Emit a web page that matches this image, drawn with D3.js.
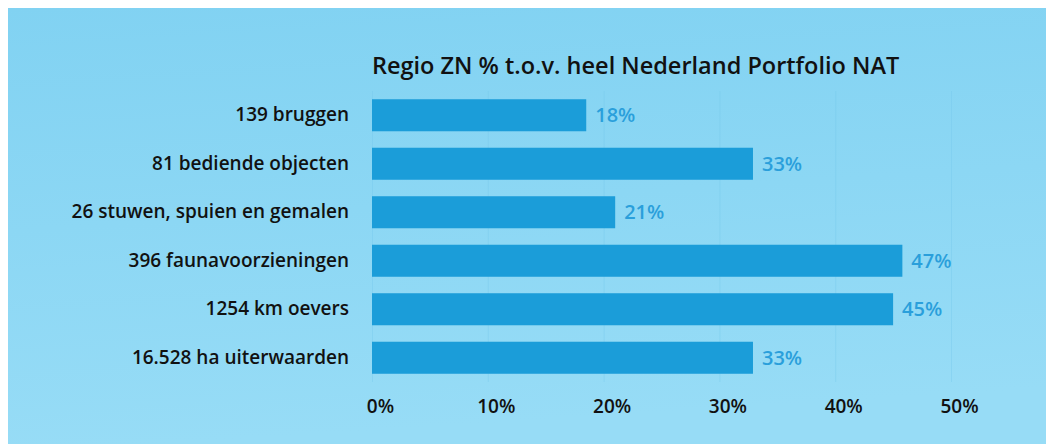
<!DOCTYPE html>
<html>
<head>
<meta charset="utf-8">
<script src="https://cdn.jsdelivr.net/npm/d3@7"></script>
<style>
  body { margin: 0; background: #fff; }
  svg { display: block; }
</style>
</head>
<body>
<div id="chart"></div>
<script>
// chart data
var categories = ["139 bruggen", "81 bediende objecten", "26 stuwen, spuien en gemalen",
                  "396 faunavoorzieningen", "1254 km oevers", "16.528 ha uiterwaarden"];
var values = [18.5, 32.9, 21.0, 45.8, 45.0, 32.9];       // bar lengths in %
var valueLabels = ["18%", "33%", "21%", "47%", "45%", "33%"];
var ticks = [0, 10, 20, 30, 40, 50];
var title = "Regio ZN % t.o.v. heel Nederland Portfolio NAT";

function init() {
    var W = 1050, H = 444;

    var svg = d3.select("#chart").append("svg")
        .attr("width", W)
        .attr("height", H);

    // background gradient
    var grad = svg.append("defs").append("linearGradient")
        .attr("id", "bg")
        .attr("x1", 0).attr("y1", 0).attr("x2", 0.15).attr("y2", 1);
    grad.append("stop").attr("offset", "0%").attr("stop-color", "#81d2f2");
    grad.append("stop").attr("offset", "100%").attr("stop-color", "#97dcf6");

    svg.append("rect")
        .attr("x", 8).attr("y", 8)
        .attr("width", W - 12).attr("height", H - 8)
        .attr("fill", "url(#bg)");

    // scales
    var x = d3.scaleLinear()
        .domain([0, 50])
        .range([372, 951]);

    var y = d3.scaleBand()
        .domain(categories)
        .range([91, 382])
        .paddingInner(0.34)
        .paddingOuter(0.17);

    // faint gridlines
    svg.append("g")
        .selectAll("line")
        .data(ticks)
        .enter()
        .append("line")
        .attr("x1", function(d) { return x(d) + 0.5; })
        .attr("x2", function(d) { return x(d) + 0.5; })
        .attr("y1", 91)
        .attr("y2", 382)
        .attr("stroke", "#74c6ec")
        .attr("stroke-opacity", 0.35);

    // title
    svg.append("text")
        .attr("x", 372)
        .attr("y", 74)
        .attr("font-family", "'Open Sans', sans-serif")
        .attr("font-size", "23.5px")
        .attr("font-weight", 600)
        .attr("fill", "#111")
        .text(title);

    // bars
    svg.append("g")
        .selectAll("rect")
        .data(values)
        .enter()
        .append("rect")
        .attr("x", x(0))
        .attr("y", function(d, i) { return y(categories[i]); })
        .attr("width", function(d) { return x(d) - x(0); })
        .attr("height", y.bandwidth())
        .attr("fill", "#1b9dd9");

    // value labels
    svg.append("g")
        .selectAll("text")
        .data(values)
        .enter()
        .append("text")
        .attr("x", function(d) { return x(d) + 9; })
        .attr("y", function(d, i) { return y(categories[i]) + y.bandwidth() / 2; })
        .attr("dy", "0.36em")
        .attr("font-family", "'Open Sans', sans-serif")
        .attr("font-size", "20px")
        .attr("font-weight", 600)
        .attr("fill", "#2a9fdb")
        .text(function(d, i) { return valueLabels[i]; });

    // category labels (y axis)
    var yAxis = svg.append("g")
        .attr("transform", "translate(349,0)")
        .call(d3.axisLeft(y).tickSize(0).tickPadding(0));
    yAxis.select(".domain").remove();
    yAxis.selectAll("text")
        .attr("font-family", "'Open Sans', sans-serif")
        .attr("font-size", "19px")
        .attr("font-weight", 600)
        .attr("fill", "#111");

    // x axis tick labels
    var xAxis = svg.append("g")
        .attr("transform", "translate(8,399)")
        .call(d3.axisBottom(x).tickValues(ticks)
            .tickFormat(function(d) { return d + "%"; })
            .tickSize(0).tickPadding(0));
    xAxis.select(".domain").remove();
    xAxis.selectAll("text")
        .attr("font-family", "'Open Sans', sans-serif")
        .attr("font-size", "19px")
        .attr("font-weight", 600)
        .attr("fill", "#111");
}

window.onload = init;
</script>
</body>
</html>
